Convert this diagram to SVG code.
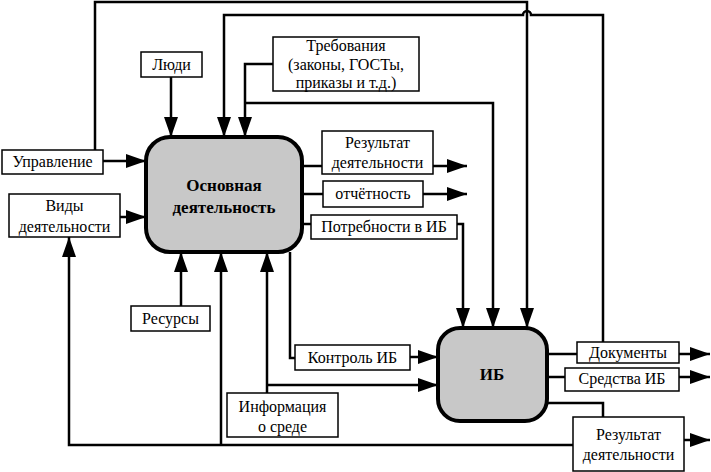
<svg xmlns="http://www.w3.org/2000/svg" width="711" height="472" viewBox="0 0 711 472">
<style>
.box{fill:#fff;stroke:#000;stroke-width:1.5}
.main{fill:#c8c8c8;stroke:#000;stroke-width:4}
text{font-family:'Liberation Serif','DejaVu Serif',serif;text-anchor:middle;fill:#000}
.t{font-size:16px}
.b{font-size:17px;font-weight:bold}
.c{fill:none;stroke:#000;stroke-width:2.5}
.a{marker-end:url(#arr)}
</style>
<defs>
<marker id="arr" markerUnits="userSpaceOnUse" markerWidth="22" markerHeight="16" refX="20" refY="7" orient="auto">
<path d="M0,0 L20,7 L0,14 Z" fill="#000"/>
</marker>
</defs>
<rect width="711" height="472" fill="#fff"/>
<g id="connectors">
<path class="c a" d="M103,161 H146"/>
<path class="c a" d="M95,150 V2 H527 V328"/>
<path class="c a" d="M120,217 H146"/>
<path class="c a" d="M171,77 V137"/>
<path class="c a" d="M603,342 V15 H531 A4,4 0 0 0 523,15 H224 V137"/>
<path class="c a" d="M273,64 H245 V137"/>
<path class="c a" d="M245,103 H493 V328"/>
<path class="c" d="M302,166 H322"/>
<path class="c a" d="M433,166 H467"/>
<path class="c" d="M302,194 H323"/>
<path class="c a" d="M423,194 H467"/>
<path class="c" d="M302,224 H311"/>
<path class="c a" d="M457,224 H463 V328"/>
<path class="c" d="M290,252 V358 H295"/>
<path class="c a" d="M410,357 H438"/>
<path class="c a" d="M181,306 V252"/>
<path class="c a" d="M267,393 V252"/>
<path class="c a" d="M267,385 H438"/>
<path class="c" d="M547,354 H577"/>
<path class="c a" d="M679,354 H710"/>
<path class="c" d="M547,377 H565"/>
<path class="c a" d="M679,377 H710"/>
<path class="c" d="M547,403 H603 V417"/>
<path class="c a" d="M684,440 H710"/>
<path class="c a" d="M573,445 H69 V237"/>
<path class="c a" d="M221,445 V252"/>
</g>
<g id="main"><rect class="main" x="146" y="137" width="156" height="115" rx="24"/><text class="b" x="224" y="191">Основная</text><text class="b" x="224" y="213">деятельность</text></g>
<g id="ib"><rect class="main" x="438" y="328" width="109" height="93" rx="22"/><text class="b" x="492" y="380">ИБ</text></g>
<g id="lyudi"><rect class="box" x="141" y="52" width="61" height="25"/><text class="t" x="171.5" y="70">Люди</text></g>
<g id="treb"><rect class="box" x="273" y="37" width="146" height="54"/><text class="t" x="346" y="51">Требования</text><text class="t" x="346" y="70">(законы, ГОСТы,</text><text class="t" x="346" y="88">приказы и т.д.)</text></g>
<g id="upr"><rect class="box" x="2" y="150" width="101" height="24"/><text class="t" x="52.5" y="167">Управление</text></g>
<g id="vidy"><rect class="box" x="9" y="194" width="111" height="43"/><text class="t" x="64.5" y="211">Виды</text><text class="t" x="64.5" y="232">деятельности</text></g>
<g id="rez1"><rect class="box" x="322" y="131" width="111" height="43"/><text class="t" x="377.5" y="148">Результат</text><text class="t" x="377.5" y="168">деятельности</text></g>
<g id="otch"><rect class="box" x="323" y="181" width="100" height="26"/><text class="t" x="373" y="199">отчётность</text></g>
<g id="potr"><rect class="box" x="311" y="215" width="146" height="24"/><text class="t" x="384" y="232">Потребности в ИБ</text></g>
<g id="res"><rect class="box" x="131" y="306" width="79" height="25"/><text class="t" x="170.5" y="324">Ресурсы</text></g>
<g id="kontr"><rect class="box" x="295" y="345" width="115" height="25"/><text class="t" x="352.5" y="363">Контроль ИБ</text></g>
<g id="info"><rect class="box" x="227" y="393" width="111" height="44"/><text class="t" x="282.5" y="412">Информация</text><text class="t" x="282.5" y="432">о среде</text></g>
<g id="doc"><rect class="box" x="577" y="342" width="102" height="21"/><text class="t" x="628" y="358">Документы</text></g>
<g id="sredstva"><rect class="box" x="565" y="368" width="114" height="23"/><text class="t" x="622" y="384">Средства ИБ</text></g>
<g id="rez2"><rect class="box" x="573" y="417" width="111" height="54"/><text class="t" x="628.5" y="440">Результат</text><text class="t" x="628.5" y="460">деятельности</text></g>
</svg>
